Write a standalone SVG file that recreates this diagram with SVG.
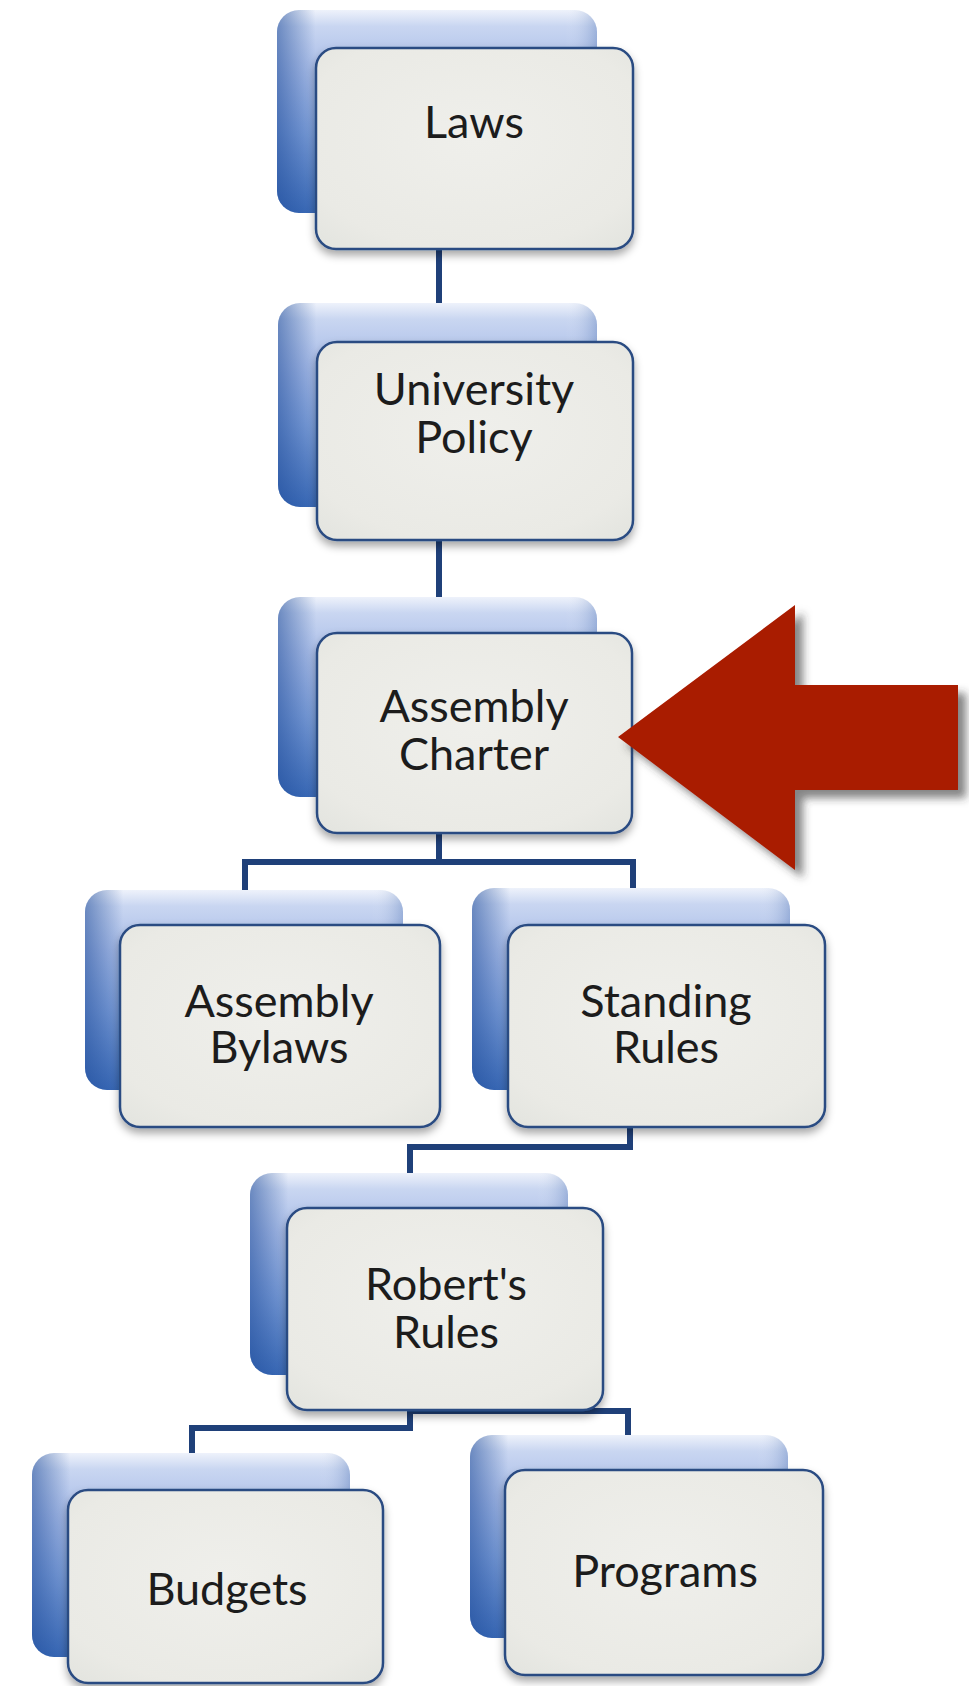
<svg xmlns="http://www.w3.org/2000/svg" width="969" height="1686" viewBox="0 0 969 1686">
  <defs>
    <linearGradient id="backFill" x1="0" y1="0" x2="0" y2="1">
      <stop offset="0" stop-color="#eef2fb"/>
      <stop offset="0.08" stop-color="#c9d6f1"/>
      <stop offset="0.3" stop-color="#a9bde8"/>
      <stop offset="0.6" stop-color="#7c9ed9"/>
      <stop offset="1" stop-color="#3b6bb8"/>
    </linearGradient>
    <linearGradient id="backEdge" x1="0" y1="0" x2="1" y2="0">
      <stop offset="0" stop-color="#1d4a98" stop-opacity="0.55"/>
      <stop offset="0.12" stop-color="#1d4a98" stop-opacity="0"/>
      <stop offset="0.9" stop-color="#ffffff" stop-opacity="0"/>
      <stop offset="1" stop-color="#1d4a98" stop-opacity="0.25"/>
    </linearGradient>
    <radialGradient id="frontFill" cx="0.5" cy="0.45" r="0.7">
      <stop offset="0" stop-color="#efefeb"/>
      <stop offset="0.8" stop-color="#eaeae5"/>
      <stop offset="1" stop-color="#e4e5e0"/>
    </radialGradient>
    <filter id="boxShadow" x="-10%" y="-10%" width="120%" height="125%">
      <feDropShadow dx="0" dy="5" stdDeviation="4" flood-color="#000" flood-opacity="0.35"/>
    </filter>
    <filter id="arrowShadow" x="-10%" y="-10%" width="125%" height="125%">
      <feDropShadow dx="8" dy="8" stdDeviation="4" flood-color="#333" flood-opacity="0.6"/>
    </filter>
  </defs>
  <style>
    .back { fill: url(#backFill); }
    .edge { fill: url(#backEdge); }
    .front { fill: url(#frontFill); stroke: #294b82; stroke-width: 2.5; filter: url(#boxShadow); }
    .label { font-family: Lato, "Open Sans", sans-serif; font-size: 45px; fill: #1c1c1c; text-anchor: middle; }
    .conn { fill: none; stroke: #1f4079; stroke-width: 6; stroke-linejoin: miter; }
  </style>

  <rect width="969" height="1686" fill="#ffffff"/>

  <!-- connectors sit behind the boxes -->
  <g id="connectors">
    <path class="conn" d="M439,240 V306"/>
    <path class="conn" d="M439,532 V600"/>
    <path class="conn" d="M439,825 V862 M245,892 V862 H633 V890"/>
    <path class="conn" d="M630,1120 V1147 H410 V1176"/>
    <path class="conn" d="M410,1400 V1428 H192 V1456"/>
    <path class="conn" d="M410,1411 H628 V1440"/>
  </g>

  <g id="node-laws">
    <rect class="back" x="277" y="10" width="320" height="203" rx="22"/>
    <rect class="edge" x="277" y="10" width="320" height="203" rx="22"/>
    <rect class="front" x="316" y="48" width="317" height="201" rx="20"/>
    <text class="label" x="474" y="138">Laws</text>
  </g>

  <g id="node-university-policy">
    <rect class="back" x="278" y="303" width="319" height="204" rx="22"/>
    <rect class="edge" x="278" y="303" width="319" height="204" rx="22"/>
    <rect class="front" x="317" y="342" width="316" height="198" rx="20"/>
    <text class="label" x="474" y="405">University</text>
    <text class="label" x="474" y="453">Policy</text>
  </g>

  <g id="node-assembly-charter">
    <rect class="back" x="278" y="597" width="319" height="200" rx="22"/>
    <rect class="edge" x="278" y="597" width="319" height="200" rx="22"/>
    <rect class="front" x="317" y="633" width="315" height="200" rx="20"/>
    <text class="label" x="474" y="722">Assembly</text>
    <text class="label" x="474" y="770">Charter</text>
  </g>

  <g id="node-assembly-bylaws">
    <rect class="back" x="85" y="890" width="318" height="200" rx="22"/>
    <rect class="edge" x="85" y="890" width="318" height="200" rx="22"/>
    <rect class="front" x="120" y="925" width="320" height="202" rx="20"/>
    <text class="label" x="279" y="1017">Assembly</text>
    <text class="label" x="279" y="1063">Bylaws</text>
  </g>

  <g id="node-standing-rules">
    <rect class="back" x="472" y="888" width="318" height="202" rx="22"/>
    <rect class="edge" x="472" y="888" width="318" height="202" rx="22"/>
    <rect class="front" x="508" y="925" width="317" height="202" rx="20"/>
    <text class="label" x="666" y="1017">Standing</text>
    <text class="label" x="666" y="1063">Rules</text>
  </g>

  <g id="node-roberts-rules">
    <rect class="back" x="250" y="1173" width="318" height="202" rx="22"/>
    <rect class="edge" x="250" y="1173" width="318" height="202" rx="22"/>
    <rect class="front" x="287" y="1208" width="316" height="202" rx="20"/>
    <text class="label" x="446" y="1300">Robert's</text>
    <text class="label" x="446" y="1348">Rules</text>
  </g>

  <g id="node-budgets">
    <rect class="back" x="32" y="1453" width="318" height="204" rx="22"/>
    <rect class="edge" x="32" y="1453" width="318" height="204" rx="22"/>
    <rect class="front" x="68" y="1490" width="315" height="193" rx="20"/>
    <text class="label" x="227" y="1605">Budgets</text>
  </g>

  <g id="node-programs">
    <rect class="back" x="470" y="1435" width="318" height="203" rx="22"/>
    <rect class="edge" x="470" y="1435" width="318" height="203" rx="22"/>
    <rect class="front" x="505" y="1470" width="318" height="205" rx="20"/>
    <text class="label" x="665" y="1587">Programs</text>
  </g>

  <!-- red pointer aimed at the charter box -->
  <g id="pointer">
    <polygon points="618,737 795,605 795,685 958,685 958,790 795,790 795,870" fill="#a91b00" filter="url(#arrowShadow)"/>
  </g>
</svg>
